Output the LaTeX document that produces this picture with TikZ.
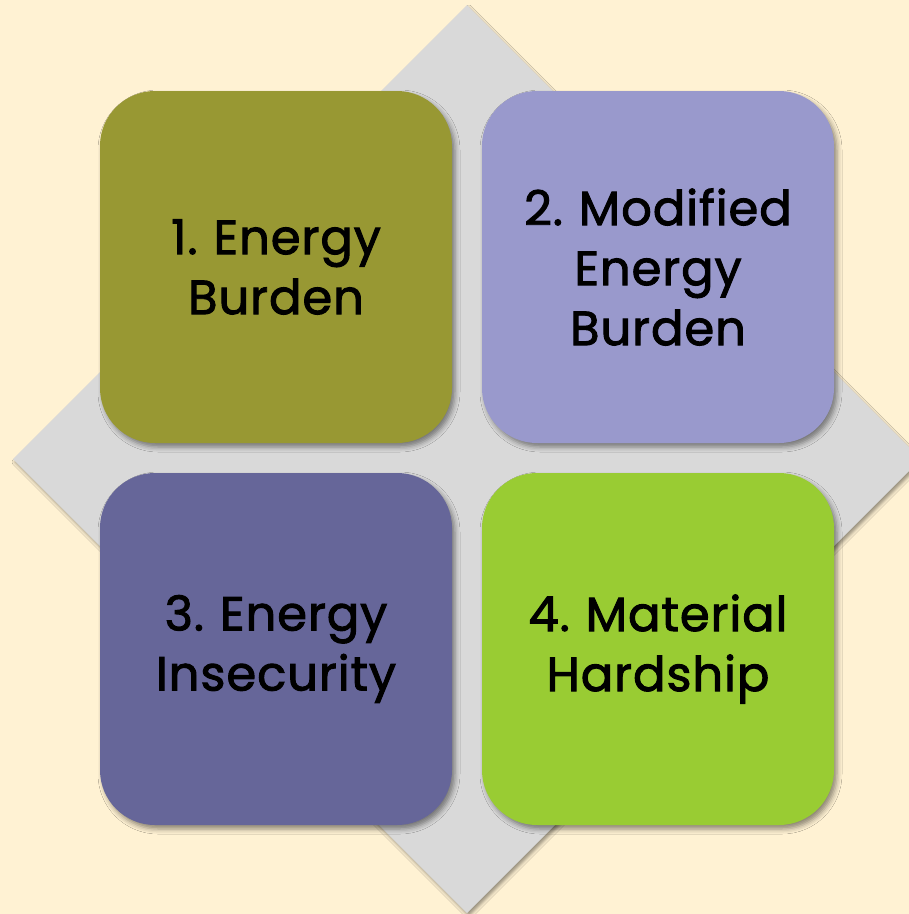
\documentclass[tikz,border=0pt]{standalone}
\usepackage{fontspec}
\setmainfont{Poppins}[LetterSpace=2, FakeBold=2]
\frenchspacing
\usepackage{tikz}
\usetikzlibrary{shadows.blur}
\definecolor{paper}{HTML}{FFF2D3}
\definecolor{plate}{HTML}{D9D9D9}
\definecolor{olive}{HTML}{989833}
\definecolor{lavender}{HTML}{9999CC}
\definecolor{slate}{HTML}{666699}
\definecolor{lime}{HTML}{99CC33}
\tikzset{tile/.style={
    rounded corners=55pt, minimum width=352pt, minimum height=352pt,
    align=center, text width=340pt, inner sep=0pt,
    font=\fontsize{48}{60}\selectfont,
    blur shadow={shadow xshift=3pt, shadow yshift=-4pt, shadow blur radius=5pt, shadow opacity=45}
  }
}

\begin{document}
\begin{tikzpicture}[x=1pt, y=-1pt]

    % Background
    \fill[paper] (0,0) rectangle (909,914);
    \useasboundingbox (0,0) rectangle (909,914);

    % Grey diamond behind the tiles
    \begin{scope}
      \clip (0,0) rectangle (909,914);
      \fill[plate, blur shadow={shadow xshift=2pt, shadow yshift=-3pt, shadow blur radius=3pt, shadow opacity=40}]
        (467,5) -- (921,459) -- (467,913) -- (13,459) -- cycle;
    \end{scope}

    % Tiles
    \node[tile, fill=olive] (burden) at (276,267) {1. Energy\\Burden};
    \node[tile, fill=lavender] (modified) at (658,267) {2. Modified\\Energy\\Burden};
    \node[tile, fill=slate] (insecurity) at (276,649) {3. Energy\\Insecurity};
    \node[tile, fill=lime] (hardship) at (658,649) {4. Material\\Hardship};

\end{tikzpicture}
\end{document}
